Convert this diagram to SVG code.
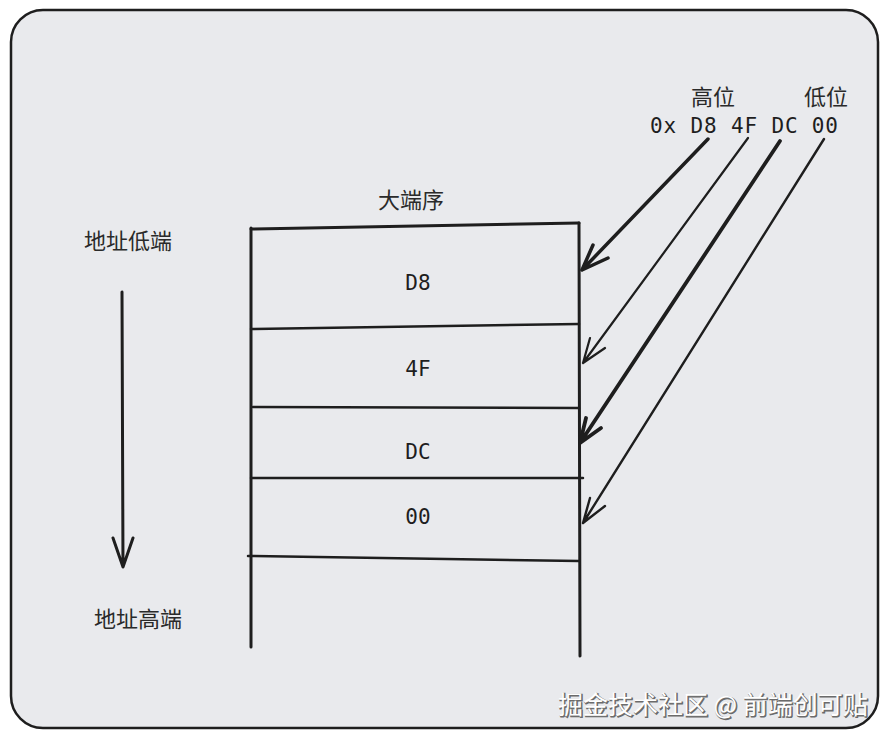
<svg xmlns="http://www.w3.org/2000/svg" width="889" height="741" viewBox="0 0 889 741">
<style>
.ln{fill:none;stroke:#1e1e1e;stroke-linecap:round;stroke-linejoin:round}
.cn{font-family:"Noto Sans CJK SC","Noto Sans",sans-serif;font-size:22px;fill:#2a2a2a}
.mono{font-family:"DejaVu Sans Mono","Liberation Mono",monospace;font-size:21px;fill:#1e1e1e}
.wm{font-family:"Noto Sans CJK SC",sans-serif;font-size:25px}
</style>
<rect x="0" y="0" width="889" height="741" fill="#ffffff"/>
<g id="frame">
<rect x="11" y="10" width="867" height="718" rx="32" ry="32" fill="#e9eaed" stroke="#1e1e1e" stroke-width="2.5"/>
</g>
<g id="table">
<path class="ln" stroke-width="3" d="M251 228 L251 647"/>
<path class="ln" stroke-width="3" d="M579 223 L580 656"/>
<path class="ln" stroke-width="3" d="M251 229 L579 223"/>
<path class="ln" stroke-width="2.5" d="M251 329 L579 324"/>
<path class="ln" stroke-width="2.5" d="M253 407 L579 408"/>
<path class="ln" stroke-width="2.5" d="M251 478 L583 478"/>
<path class="ln" stroke-width="2.5" d="M248 556 L579 561"/>
</g>
<g id="title"><text class="cn" x="411" y="208" text-anchor="middle">大端序</text></g>
<g id="cell-d8"><text class="mono" x="418" y="290" text-anchor="middle">D8</text></g>
<g id="cell-4f"><text class="mono" x="418" y="376" text-anchor="middle">4F</text></g>
<g id="cell-dc"><text class="mono" x="418" y="459" text-anchor="middle">DC</text></g>
<g id="cell-00"><text class="mono" x="418" y="524" text-anchor="middle">00</text></g>
<g id="hex">
<text class="cn" x="713" y="105" text-anchor="middle">高位</text>
<text class="cn" x="826" y="105" text-anchor="middle">低位</text>
<text class="mono" x="650" y="133" textLength="188" lengthAdjust="spacing">0x D8 4F DC 00</text>
</g>
<g id="low-label"><text class="cn" x="128" y="249" text-anchor="middle">地址低端</text></g>
<g id="high-label"><text class="cn" x="138" y="627" text-anchor="middle">地址高端</text></g>
<g id="connectors">
<path class="ln" stroke-width="3.5" d="M708 139 L582 270 M593 245 L582 270 L608 258"/>
<path class="ln" stroke-width="2.2" d="M748 138 L583 363 M590 338 L583 363 L605 348"/>
<path class="ln" stroke-width="3.8" d="M780 141 L580 443 M586 418 L580 443 L601 428"/>
<path class="ln" stroke-width="2.4" d="M824 139 L583 523 M590 498 L583 523 L605 506"/>
<path class="ln" stroke-width="3" d="M122 292 L123 567 M113 538 L123 567 L133 538"/>
</g>
<g id="watermark">
<text class="wm" x="559" y="715" fill="#6b6b6b" stroke="#6b6b6b" stroke-width="1.2">掘金技术社区 @ 前端创可贴</text>
<text class="wm" x="558" y="714" fill="#ffffff">掘金技术社区 @ 前端创可贴</text>
</g>
</svg>
